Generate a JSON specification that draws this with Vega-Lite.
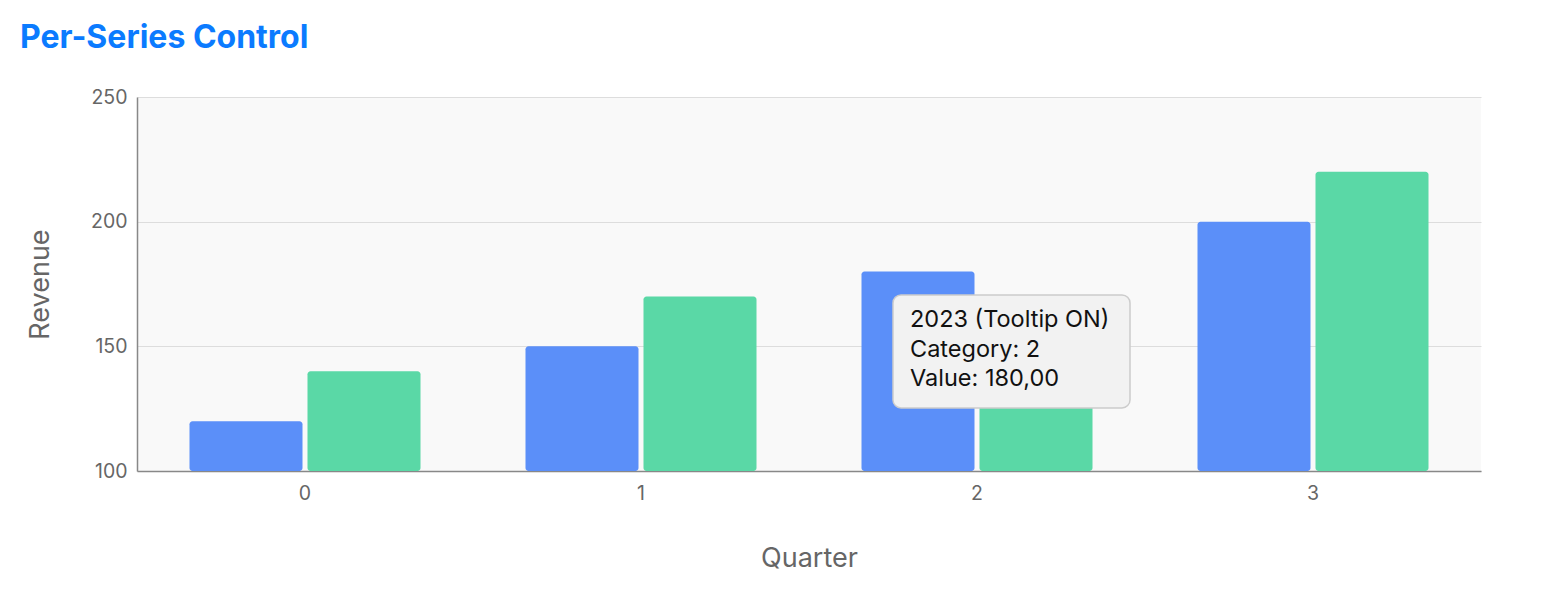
{
  "$schema": "https://vega.github.io/schema/vega-lite/v6.json",
  "width": 1344,
  "height": 374,
  "autosize": {"type": "none"},
  "padding": {"left": 137, "top": 97, "right": 63, "bottom": 121},
  "background": "white",
  "config": {
    "font": "Inter",
    "view": {"fill": "#f9f9f9", "stroke": null},
    "axis": {"labelFont": "Inter", "titleFont": "Inter", "labelColor": "#666666", "titleColor": "#666666", "titleFontWeight": "normal", "labelFontSize": 19.5, "titleFontSize": 27, "domainColor": "#888888", "domainWidth": 1.5, "ticks": false, "gridColor": "#dddddd"}
  },
  "title": {
    "text": "Per-Series Control",
    "anchor": "start",
    "frame": "group",
    "dx": -117,
    "offset": 32,
    "fontSize": 32,
    "fontWeight": "bold",
    "color": "#0b7bff",
    "font": "Inter"
  },
  "datasets": {
    "revenue": [
      {"quarter": "0", "series": "2023 (Tooltip ON)", "value": 120},
      {"quarter": "0", "series": "2024 (Tooltip OFF)", "value": 140},
      {"quarter": "1", "series": "2023 (Tooltip ON)", "value": 150},
      {"quarter": "1", "series": "2024 (Tooltip OFF)", "value": 170},
      {"quarter": "2", "series": "2023 (Tooltip ON)", "value": 180},
      {"quarter": "2", "series": "2024 (Tooltip OFF)", "value": 160},
      {"quarter": "3", "series": "2023 (Tooltip ON)", "value": 200},
      {"quarter": "3", "series": "2024 (Tooltip OFF)", "value": 220}
    ],
    "tipbox": [
      {"quarter": "2", "top": 170.6, "bottom": 125.3}
    ],
    "tiptext": [
      {"quarter": "2", "y": 160.5, "line": "2023 (Tooltip ON)"},
      {"quarter": "2", "y": 148.6, "line": "Category: 2"},
      {"quarter": "2", "y": 136.9, "line": "Value: 180,00"}
    ]
  },
  "layer": [
    {
      "data": {"name": "revenue"},
      "mark": {"type": "bar", "cornerRadius": 3},
      "encoding": {
        "x": {
          "field": "quarter", "type": "nominal", "title": "Quarter",
          "scale": {"paddingInner": 0.3125, "paddingOuter": 0.15625},
          "axis": {"labelAngle": 0, "labelPadding": 13, "titlePadding": 43, "grid": false}
        },
        "xOffset": {"field": "series", "type": "nominal", "scale": {"paddingInner": 0.0424, "paddingOuter": 0}},
        "y": {
          "field": "value", "type": "quantitative", "title": "Revenue",
          "scale": {"domain": [100, 250], "zero": false, "nice": false},
          "axis": {"values": [100, 150, 200, 250], "labelPadding": 10, "titlePadding": 36}
        },
        "y2": {"datum": 100},
        "color": {
          "field": "series", "type": "nominal", "legend": null,
          "scale": {"range": ["#5B8FF9", "#5AD8A6"]}
        }
      }
    },
    {
      "data": {"name": "tipbox"},
      "mark": {"type": "bar", "width": 237, "xOffset": 34.5, "cornerRadius": 8, "fill": "#f2f2f2", "stroke": "#cccccc", "strokeWidth": 1.5},
      "encoding": {
        "x": {"field": "quarter", "type": "nominal"},
        "y": {"field": "top", "type": "quantitative"},
        "y2": {"field": "bottom"}
      }
    },
    {
      "data": {"name": "tiptext"},
      "mark": {"type": "text", "align": "left", "baseline": "middle", "dx": -67, "fontSize": 23.5, "color": "#111111", "font": "Inter"},
      "encoding": {
        "x": {"field": "quarter", "type": "nominal"},
        "y": {"field": "y", "type": "quantitative"},
        "text": {"field": "line"}
      }
    }
  ]
}
